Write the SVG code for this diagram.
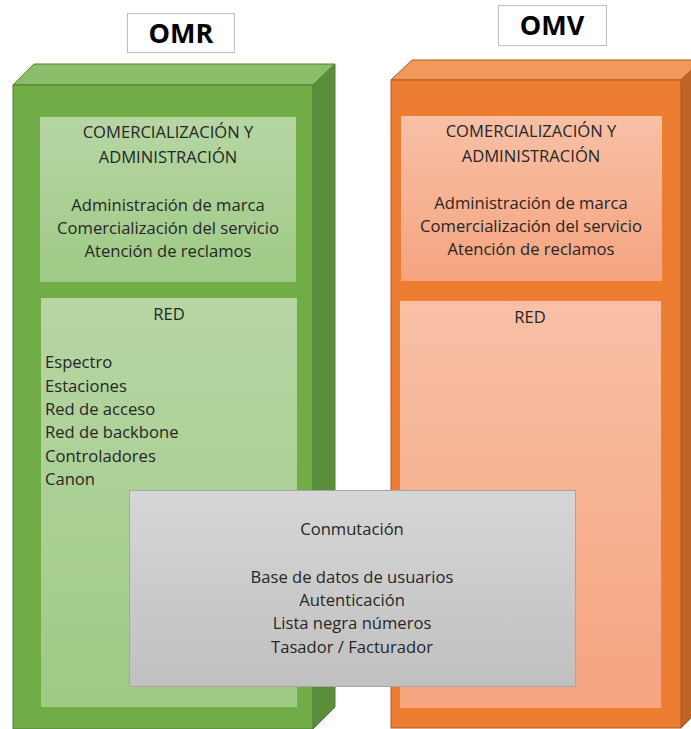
<svg xmlns="http://www.w3.org/2000/svg" width="691" height="729" viewBox="0 0 691 729">
<defs>
<linearGradient id="gGreen" x1="0" y1="0" x2="0" y2="1"><stop offset="0" stop-color="#B6D6A4"/><stop offset="1" stop-color="#9FCA86"/></linearGradient>
<linearGradient id="gOrange" x1="0" y1="0" x2="0" y2="1"><stop offset="0" stop-color="#F8C0A6"/><stop offset="1" stop-color="#F5A47F"/></linearGradient>
<linearGradient id="gGray" x1="0" y1="0" x2="0" y2="1"><stop offset="0" stop-color="#D6D6D6"/><stop offset="1" stop-color="#C0C0C0"/></linearGradient>
</defs>
<style>
text{font-family:"Open Sans","Liberation Sans",sans-serif;font-size:16.6px;fill:#262626}
.c{text-anchor:middle}
.t{font-weight:bold;font-size:27px;fill:#000}
.lbl{fill:#fff;stroke:#BFBFBF;stroke-width:1}
</style>
<rect width="691" height="729" fill="#fff"/>
<g id="omr-title"><rect class="lbl" x="127.5" y="13.5" width="107" height="39"/><text class="c t" x="181" y="43">OMR</text></g>
<g id="omv-title"><rect class="lbl" x="498.5" y="5.5" width="108" height="40"/><text class="c t" x="552" y="35">OMV</text></g>
<g id="omr">
<polygon points="13,85 34,64 335,64 313,85" fill="#8BBE6A" stroke="#507E32" stroke-width="1"/>
<polygon points="313,85 335,64 335,707 313,729" fill="#5A8E3A" stroke="#507E32" stroke-width="1"/>
<rect x="13" y="85" width="300" height="644" fill="#70AD47" stroke="#507E32" stroke-width="1"/>
</g>
<g id="omr-comercial">
<rect x="40" y="117" width="256" height="165" fill="url(#gGreen)"/>
<text class="c" x="168" y="138">COMERCIALIZACIÓN Y</text>
<text class="c" x="168" y="163">ADMINISTRACIÓN</text>
<text class="c" x="168" y="211">Administración de marca</text>
<text class="c" x="168" y="234">Comercialización del servicio</text>
<text class="c" x="168" y="257">Atención de reclamos</text>
</g>
<g id="omr-red">
<rect x="41" y="298" width="256" height="409" fill="url(#gGreen)"/>
<text class="c" x="169" y="320">RED</text>
<text x="45" y="368">Espectro</text>
<text x="45" y="392">Estaciones</text>
<text x="45" y="415">Red de acceso</text>
<text x="45" y="438">Red de backbone</text>
<text x="45" y="462">Controladores</text>
<text x="45" y="485">Canon</text>
</g>
<g id="omv">
<polygon points="391,80 412,60 702,60 681,80" fill="#F1985B" stroke="#AE5A21" stroke-width="1"/>
<polygon points="681,80 702,60 702,707 681,728" fill="#BE6427" stroke="#AE5A21" stroke-width="1"/>
<rect x="391" y="80" width="290" height="648" fill="#ED7D31" stroke="#AE5A21" stroke-width="1"/>
</g>
<g id="omv-comercial">
<rect x="401" y="116" width="261" height="165" fill="url(#gOrange)"/>
<text class="c" x="531" y="137">COMERCIALIZACIÓN Y</text>
<text class="c" x="531" y="162">ADMINISTRACIÓN</text>
<text class="c" x="531" y="209">Administración de marca</text>
<text class="c" x="531" y="232">Comercialización del servicio</text>
<text class="c" x="531" y="255">Atención de reclamos</text>
</g>
<g id="omv-red">
<rect x="400" y="301" width="261" height="407" fill="url(#gOrange)"/>
<text class="c" x="530" y="323">RED</text>
</g>
<g id="conmutacion">
<rect x="129.5" y="490.5" width="446" height="196" fill="url(#gGray)" stroke="#A6A6A6" stroke-width="1"/>
<text class="c" x="352" y="535">Conmutación</text>
<text class="c" x="352" y="583">Base de datos de usuarios</text>
<text class="c" x="352" y="606">Autenticación</text>
<text class="c" x="352" y="629">Lista negra números</text>
<text class="c" x="352" y="653">Tasador / Facturador</text>
</g>
<g id="connectors"/>
</svg>
